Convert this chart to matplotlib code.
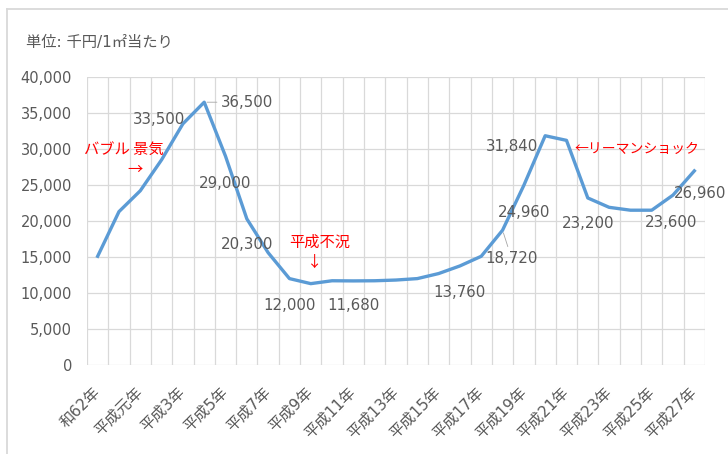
import matplotlib.pyplot as plt
from matplotlib.lines import Line2D
import numpy as np

# 数字はDejaVu Sans、日本語はNoto Sans CJK JPで描く
plt.rcParams['font.family'] = ['DejaVu Sans', 'Noto Sans CJK JP']
JP = ['Noto Sans CJK JP', 'DejaVu Sans']

# 昭和62年〜平成27年（29年分）
categories = ['昭和62年', '昭和63年', '平成元年'] + [f'平成{n}年' for n in range(2, 28)]
tick_labels = ['和62年', '平成元年', '平成3年', '平成5年', '平成7年', '平成9年', '平成11年',
               '平成13年', '平成15年', '平成17年', '平成19年', '平成21年', '平成23年',
               '平成25年', '平成27年']
# 単位: 千円/1㎡
prices = [15100, 21300, 24200, 28500, 33500, 36500, 29000, 20300, 15600, 12000,
          11300, 11700, 11680, 11700, 11800, 12000, 12700, 13760, 15100, 18720,
          24960, 31840, 31200, 23200, 21900, 21500, 21500, 23600, 26960]
labeled = [4, 5, 6, 7, 9, 12, 17, 19, 20, 21, 23, 27, 28]

GRAY = '#595959'
GRID = '#d9d9d9'
BLUE = '#5b9bd5'
RED = '#ff0000'

fig = plt.figure(figsize=(7.28, 4.54), dpi=100)
ax = fig.add_axes([87 / 728, 1 - 365 / 454, 618 / 728, 288 / 454])

x = np.arange(len(categories))
ax.plot(x, prices, color=BLUE, lw=2.4, solid_joinstyle='round', zorder=3)

ax.set_xlim(-0.5, len(categories) - 0.5)
ax.set_ylim(0, 40000)
ax.set_yticks(np.arange(0, 40001, 5000))
ax.set_yticklabels([f'{v:,}' for v in range(0, 40001, 5000)])
ax.set_xticks(x[::2])
ax.set_xticklabels(tick_labels, rotation=45, ha='right', va='center', rotation_mode='anchor')
ax.set_xticks(np.arange(-0.5, len(categories)), minor=True)

ax.grid(False)
ax.yaxis.grid(True, color=GRID, lw=0.9)
ax.xaxis.grid(True, which='minor', color=GRID, lw=0.9)
for s in ax.spines.values():
    s.set_visible(False)
ax.tick_params(axis='y', length=0, pad=10.8, labelsize=10.5, labelcolor=GRAY)
ax.tick_params(axis='x', which='both', length=0, pad=18, labelsize=11, labelcolor=GRAY)

# データラベルの位置（ピクセル単位のずらし）
offsets = {4: (-24, 4), 5: (43, 0), 6: (0, -27), 7: (0, -26), 9: (0, -27),
           12: (0, -25), 17: (0, -27), 19: (9, -28), 20: (0, -27), 21: (-33, -11),
           23: (0, -26), 27: (-2, -27), 28: (6, -23)}
for i in labeled:
    dx, dy = offsets[i]
    kw = {}
    if i in (5, 19):
        kw['arrowprops'] = dict(arrowstyle='-', color='#a6a6a6', lw=0.6, shrinkA=1, shrinkB=2)
    ax.annotate(f'{prices[i]:,}', (x[i], prices[i]), xytext=(dx, dy),
                textcoords='offset pixels', ha='center', va='center',
                fontsize=10.8, color=GRAY, zorder=4, annotation_clip=False, **kw)

# 注釈
ax.text(1.23, 30000, 'バブル 景気', color=RED, fontsize=11, ha='center', va='center', family=JP)
ax.text(1.75, 27100, '→', color=RED, fontsize=11, ha='center', va='center', family=JP)
ax.text(10.42, 17100, '平成不況', color=RED, fontsize=11, ha='center', va='center', family=JP)
ax.text(10.19, 14300, '↓', color=RED, fontsize=11, ha='center', va='center', family=JP)
ax.text(22.4, 30000, '←リーマンショック', color=RED, fontsize=10, ha='left', va='center',
        family=JP)

fig.text(26 / 728, 1 - 42 / 454, '単位: 千円/1㎡当たり', fontsize=11, color=GRAY,
         ha='left', va='center')

# 外枠
fig.add_artist(Line2D([7 / 728, 1], [1 - 8.5 / 454] * 2, transform=fig.transFigure,
                      color=GRID, lw=1.3))
fig.add_artist(Line2D([7 / 728] * 2, [0, 1 - 8.5 / 454], transform=fig.transFigure,
                      color=GRID, lw=1.3))

fig.savefig('out.png', dpi=100)
